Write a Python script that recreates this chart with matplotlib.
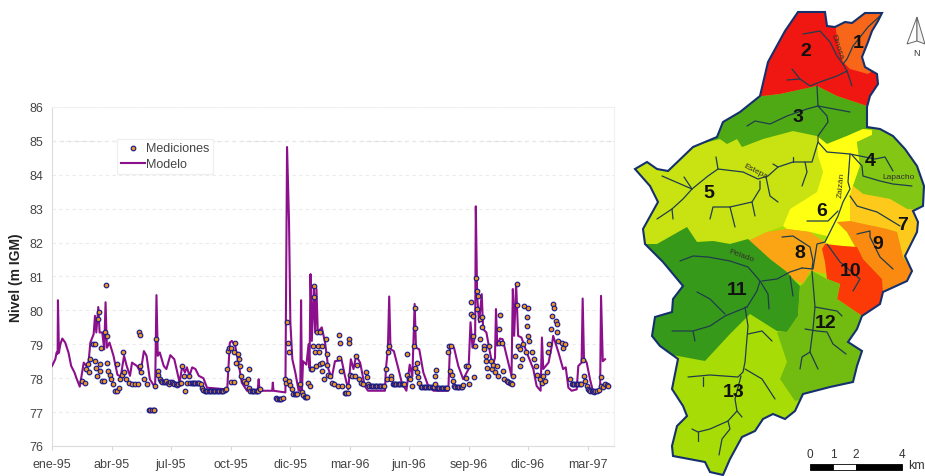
import matplotlib
matplotlib.use("Agg")
import matplotlib.pyplot as plt
from matplotlib.patches import Polygon, Rectangle

plt.rcParams['font.family'] = ['Liberation Sans', 'DejaVu Sans']

# ---- serie temporal (dias desde ene-95, nivel en m IGM)
dias_modelo = [0, 5, 7, 8.5, 9, 10.5, 12.6, 15.6, 20, 25, 29, 34, 37, 42, 48, 52, 55, 58, 63, 65, 67, 70, 72, 76, 79, 81, 83, 87,
               93, 99, 104, 109, 113, 118, 121, 128.6, 134, 139, 143, 148, 156, 158, 160, 163, 169, 173, 179, 185, 193, 197,
               201, 204, 208, 212, 217, 222, 229, 234.5, 265, 269, 272, 277, 282, 287, 295, 311, 312.6, 314, 333, 334, 335,
               353, 355.5, 358.5, 360.5, 363.5, 368, 373, 375.5, 376.7, 378, 379.7, 384.8, 388, 389.5, 391, 393, 396, 398, 400,
               402, 408, 413, 418, 423, 428, 438, 443, 448, 452, 456, 460, 466, 473, 478, 503.6, 505, 508, 510, 512, 517, 524,
               529, 536, 541, 545, 548.5, 550.5, 555.5, 561.6, 569, 577, 599.4, 602, 608, 614.5, 622, 630, 633, 636, 640, 641,
               643, 646, 650, 652, 657, 662.4, 666.5, 670, 671.5, 673.5, 677.6, 681.6, 687.6, 695, 697, 699, 702, 705, 710, 718,
               728, 733, 739, 741, 743, 751, 756, 758, 766, 773, 777, 781, 786, 793.6, 796, 801, 802.6, 804.6, 808.7, 813.7, 818,
               829, 830.4, 833, 836.4]
nivel_modelo = [78.36, 78.56, 78.76, 78.72, 80.3, 78.75, 79.0, 79.17, 79.05, 78.75, 78.36, 78.17, 78.0, 77.75, 78.46, 78.36, 78.41, 79.05, 79.3, 79.84, 79.35, 80.1, 79.35, 79.35, 78.85, 80.24, 78.9, 79.05,
                78.66, 78.1, 78.05, 78.66, 78.36, 78.07, 78.46, 78.36, 78.17, 78.8, 78.66, 77.97, 77.72, 80.45, 78.66, 78.76, 78.36, 78.27, 78.68, 78.56, 77.87, 78.36,
                78.17, 78.32, 78.07, 78.32, 78.27, 78.07, 78.0, 77.72, 77.67, 79.05, 79.1, 78.96, 78.46, 77.87, 77.63, 77.63, 77.97, 77.63, 77.63, 77.87, 77.63,
                77.58, 84.82, 82.6, 79.65, 78.56, 78.17, 77.63, 77.63, 80.3, 77.63, 78.5, 78.4, 79.0, 78.3, 81.07, 79.1, 80.7, 79.35, 80.63,
                79.35, 79.5, 79.05, 78.27, 78.0, 78.5, 78.54, 78.07, 77.67, 78.56, 78.27, 78.66, 78.46, 77.77, 77.63, 77.63, 78.27, 78.86, 80.41, 78.86, 78.8, 78.27,
                77.87, 77.63, 78.4, 78.05, 80.19, 78.9, 78.85, 78.17, 77.77, 77.63, 77.63, 78.96, 78.9, 78.36, 77.97, 78.27, 79.65, 78.9, 79.25, 83.07,
                80.43, 79.65, 80.48, 79.45, 79.35, 78.76, 78.36, 78.6, 80.04, 78.96, 79.17, 79.15, 78.66, 78.07, 80.63, 79.25, 80.78, 79.25, 79.2, 78.76,
                78.27, 77.77, 77.63, 79.2, 78.27, 78.46, 78.96, 79.25, 78.76, 78.27, 78.32, 77.72, 77.63, 77.67, 78.36, 78.46, 80.35, 78.56, 78.46, 77.97, 77.63,
                77.63, 80.43, 78.5, 78.56]

dias_med = [45, 50, 52, 54, 55.5, 58, 62, 64.5, 64.5, 66.5, 68, 69.6, 70.6, 72, 73, 74.6, 75.6, 78, 79.7, 81, 82.7, 83, 85, 87, 89, 92, 95, 98, 99, 101,
            103.4, 106, 108, 109.4, 112.5, 116, 121, 126, 130, 131, 132.6, 133.6, 135, 139, 143.7,
            146, 148.8, 151, 153.8, 155, 156, 158, 160, 161, 163,
            165, 167, 169, 171, 173, 175, 177, 179, 181, 183, 185, 187, 189, 191, 193, 195, 197, 199, 201.7, 204, 207,
            209, 211, 213, 215, 217, 219, 221, 223, 225, 227, 229,
            231, 233, 235, 237, 239, 241, 243, 245, 247, 249, 251, 253, 255, 257, 259, 261, 263,
            264.7, 266, 267, 270, 271, 275, 276, 277, 278, 282, 283, 285, 286, 290, 293, 296, 297.5, 298,
            300, 302, 304, 306, 308, 310, 312, 315,
            339, 341, 343, 345, 347, 349, 353, 354.5, 355.6, 356.5, 358, 358.6, 360.5, 363,
            365, 367, 369, 371, 375.7, 378, 380, 382.5, 384, 386, 387.6, 390, 391, 392.6, 394, 396, 396, 397.7, 398.7,
            401, 402, 404, 405, 406, 408, 409, 409, 411, 414, 416, 416, 418, 420.4, 424, 427, 433, 434.5, 434.5, 435.5, 436.5, 439,
            443, 445, 447, 448, 449.6, 449.6, 450.6, 453, 458, 459.7, 461.7, 465, 468, 471, 475, 476, 478,
            480, 482, 484, 486, 488, 490, 492, 494, 496, 498, 500, 502, 505, 507, 508.6, 510, 512, 513,
            515, 517, 519, 521, 523, 525, 527, 529, 531, 533, 537, 537, 540.4, 542, 544.4,
            547.5, 549, 549, 549, 551.5, 552.5, 554, 555.5,
            558, 560, 562, 564, 566, 568, 570, 572, 574, 576, 578, 579, 579, 580.7,
            582, 584, 586, 588, 590, 592, 594, 596, 598, 599.4, 601, 603, 602, 604.5, 606, 608,
            610, 612, 614, 616, 618, 620, 622, 625.6, 625.6, 629.6, 630.7,
            633, 633.7, 636, 637, 638, 640, 641, 643, 643, 645, 647, 648, 650, 651, 653, 653, 656, 657, 658.4, 660, 661.4, 663.4, 665, 667.5,
            670, 672.5, 675, 676, 676.6, 677.6, 680, 681.6, 683.6, 687.6, 690, 692.7, 694, 696, 697.7, 700, 703, 704, 705.3, 708, 708, 710.4, 712,
            714, 717, 718, 719, 720.4, 720.4, 722, 725.5, 729, 732, 734, 738, 740.6, 743, 745.6, 748, 750.7, 752, 754, 756, 758, 760, 762, 764, 764,
            766, 771, 773, 776, 783.5, 786, 788, 790, 792, 794, 796, 798, 800, 803.6, 804.6, 806, 808.7,
            810, 812, 814, 816, 818, 820, 822, 825, 827, 831, 831, 834, 836.4, 839, 841.5]
nivel_med = [77.92, 77.85, 78.27, 78.41, 78.17, 78.56, 79, 79, 78.5, 78.3, 78.07, 79.75, 79.96, 78.41, 78.2, 78.9, 77.92, 77.92, 79.35, 80.75, 79.25, 78.46, 78.2, 78.1, 77.97, 77.82, 77.63, 77.63, 78.41, 77.72,
             77.97, 78.1, 78.76, 78.17, 77.97, 77.87, 77.82, 77.82, 77.82, 79.35, 79.27, 78.36, 78.17, 77.97, 77.82,
             77.05, 77.05, 77.05, 77.05, 77.05, 77.77, 79.15, 78.2, 78.1, 77.97,
             77.92, 77.9, 77.88, 77.9, 77.92, 77.85, 77.82, 77.88, 77.9, 77.85, 77.82, 77.82, 77.8, 77.82, 77.85, 77.85, 78.36, 78.07, 77.62, 77.87, 78.07,
             77.85, 77.85, 77.85, 77.85, 77.85, 77.85, 77.85, 77.85, 77.82, 77.7, 77.65,
             77.63, 77.63, 77.63, 77.63, 77.63, 77.63, 77.63, 77.63, 77.63, 77.63, 77.63, 77.63, 77.63, 77.63, 77.63, 77.65, 77.67,
             78.27, 78.8, 78.9, 78.9, 77.9, 77.88, 78.76, 79.05, 78.46, 78.7, 78.56, 78.36, 78.07, 77.92, 77.85, 77.97, 78.27, 77.72,
             77.63, 77.63, 77.63, 77.63, 77.63, 77.63, 77.63, 77.67,
             77.42, 77.4, 77.38, 77.38, 77.4, 77.42, 77.97, 77.87, 79.65, 79.05, 78.76, 77.92, 77.8, 77.67,
             77.53, 77.53, 77.53, 77.53, 77.82, 77.58, 77.5, 77.46, 77.46, 77.46, 77.87, 77.77, 78.27, 78.27, 78.96, 80.73, 80.41, 78.76, 78.35,
             79.35, 78.96, 78.76, 79.35, 78.41, 78.96, 78.46, 78.2, 77.97, 79.15, 78.7, 78.4, 78.1, 78.07, 77.87, 77.82, 77.77, 79.27, 78.6, 79.05, 78.2, 77.77,
             77.56, 77.56, 77.56, 77.77, 79.17, 79.05, 78.1, 78.07, 78.07, 78.66, 78.4, 77.97, 77.87, 77.82, 78.17, 78.05, 77.82,
             77.77, 77.77, 77.77, 77.77, 77.77, 77.77, 77.77, 77.77, 77.77, 77.77, 77.77, 77.77, 78.27, 77.97, 78.76, 78.94, 78.07, 77.97,
             77.82, 77.82, 77.82, 77.82, 77.82, 77.82, 77.82, 77.82, 77.82, 77.82, 78.7, 78.1, 78.0, 77.97, 77.77,
             78.96, 80.06, 79.47, 78.3, 78.44, 78.17, 78.05, 77.87,
             77.75, 77.75, 77.75, 77.75, 77.75, 77.75, 77.75, 77.75, 77.75, 77.75, 77.75, 78.07, 77.82, 78.25,
             77.72, 77.72, 77.72, 77.72, 77.72, 77.72, 77.72, 77.72, 77.72, 78.76, 78.96, 78.96, 78.2, 78.1, 77.92, 77.77,
             77.75, 77.75, 77.75, 77.75, 77.75, 77.75, 77.8, 78.36, 78.0, 78.36, 77.82,
             79.9, 80.25, 79.25, 79.84, 78.05, 78.96, 80.95, 80.58, 80.04, 80.43, 79.15, 79.75, 79.8, 79.5, 78.96, 78.86, 78.66, 78.5, 78.3, 78.07, 78.96, 78.5, 78.27, 78.4,
             78.17, 78.36, 78.07, 79.05, 79.45, 79.86, 79.05, 78.2, 77.97, 77.92, 77.9, 77.87, 77.85, 77.82, 78.07, 78.66, 80.78, 80.16, 78.96, 78.86, 78.36, 78.56, 79,
             80.14, 78.76, 79.55, 79.82, 80.06, 79.25, 79.1, 78.76, 78.56, 78.36, 78.1, 77.97, 77.87, 78.07, 77.92, 78.17, 78.76, 79, 79.45, 79.84, 80.19, 80.06, 79.7, 79.6, 79.35,
             79.1, 79.05, 78.9, 79, 77.97, 77.82, 77.82, 77.82, 77.82, 77.82, 77.82, 77.82, 77.82, 78.54, 78.07, 77.92, 77.77,
             77.68, 77.65, 77.62, 77.62, 77.62, 77.6, 77.62, 77.62, 77.65, 78.05, 77.77, 77.75, 77.82, 77.8, 77.77]

ticks_dias = [0, 90, 180, 270, 360, 450, 540, 630, 720, 810]
ticks_fechas = ['ene-95', 'abr-95', 'jul-95', 'oct-95', 'dic-95', 'mar-96', 'jun-96', 'sep-96', 'dic-96', 'mar-97']

# ---- mapa de la cuenca, en pixeles de la figura
borde = [(798, 13), (825, 13), (827, 27), (835, 28), (845, 23), (852, 24), (865, 14), (882, 14), (878, 22), (872, 32), (868, 43), (862, 58),
         (865, 68), (877, 75), (878, 85), (870, 97), (867, 108), (867, 128), (880, 130), (893, 137), (905, 150), (917, 167), (924, 187),
         (923, 207), (913, 212), (918, 223), (917, 233), (905, 257), (912, 272), (907, 282), (883, 293), (880, 305), (862, 317), (857, 330),
         (848, 343), (862, 352), (857, 367), (853, 383), (830, 388), (803, 395), (795, 412), (785, 420), (773, 415), (763, 420), (755, 432),
         (742, 438), (730, 460), (723, 476), (710, 473), (705, 463), (673, 457), (672, 447), (677, 427), (687, 417), (683, 407), (672, 390),
         (678, 360), (660, 347), (652, 337), (655, 318), (672, 313), (673, 300), (683, 287), (663, 263), (645, 245), (643, 230), (658, 203),
         (650, 187), (635, 170), (647, 163), (657, 170), (668, 172), (693, 148), (717, 138), (723, 123), (740, 113), (760, 97), (768, 63), (785, 32)]

subcuencas = {
    '5': ('#c8e212', [(630, 130), (720, 140), (727, 145), (737, 140), (742, 148), (763, 140), (793, 132), (817, 137), (817, 143), (818, 157), (823, 173),
                      (817, 193), (790, 210), (783, 227), (767, 233), (748, 242), (730, 245), (713, 242), (697, 243), (687, 230), (657, 245), (630, 250)]),
    '3': ('#4fa914', [(700, 90), (763, 97), (780, 95), (817, 87), (837, 97), (867, 107), (880, 130), (863, 130), (847, 137), (827, 145), (817, 137), (793, 132),
                      (763, 140), (742, 148), (737, 140), (727, 145), (720, 140), (700, 145)]),
    '2': ('#f01612', [(700, 97), (763, 97), (780, 95), (817, 87), (837, 97), (867, 107), (900, 100), (900, 0), (760, 0)]),
    '1': ('#f8661a', [(835, 25), (838, 45), (843, 63), (850, 70), (868, 75), (890, 60), (890, 5), (840, 5)]),
    '6': ('#ffff12', [(817, 137), (827, 145), (847, 137), (863, 130), (875, 132), (872, 136), (857, 143), (860, 167), (853, 187), (850, 197), (850, 223), (837, 223),
                      (847, 233), (855, 248), (825, 247), (827, 237), (810, 233), (787, 230), (783, 227), (790, 210), (817, 193), (823, 173), (818, 157), (817, 143)]),
    '4': ('#84c614', [(872, 128), (872, 136), (857, 143), (860, 167), (853, 187), (863, 195), (890, 200), (907, 210), (930, 212), (930, 130)]),
    '7': ('#fdc91a', [(853, 187), (863, 195), (890, 200), (907, 210), (930, 212), (930, 262), (903, 258), (897, 233), (887, 230), (850, 223), (850, 197)]),
    '9': ('#fb8a10', [(837, 223), (850, 222), (887, 230), (897, 233), (903, 258), (912, 272), (910, 290), (883, 293), (882, 280), (863, 260), (855, 247), (847, 233)]),
    '8': ('#fba414', [(748, 242), (767, 233), (787, 230), (810, 233), (827, 245), (822, 250), (825, 263), (827, 275), (817, 273), (810, 272), (803, 285), (793, 280), (787, 273), (770, 260)]),
    '10': ('#fb3a08', [(825, 245), (843, 247), (857, 248), (863, 260), (882, 280), (883, 293), (880, 305), (862, 317), (837, 300), (840, 285), (827, 280), (825, 263), (822, 250)]),
    '11': ('#37991a', [(640, 245), (657, 245), (687, 228), (697, 243), (713, 242), (730, 245), (748, 240), (770, 260), (787, 273), (793, 280), (800, 287), (798, 317), (787, 333), (777, 332),
                       (750, 315), (730, 335), (705, 362), (678, 357), (640, 350)]),
    '12': ('#72bb10', [(800, 287), (803, 285), (812, 272), (827, 280), (840, 285), (837, 300), (862, 317), (870, 345), (870, 400), (803, 400), (795, 402), (780, 380), (787, 363), (777, 333), (787, 333), (798, 317)]),
}
color_fondo = '#a8dc06'  # subcuenca 13

rios = [
    [(803, 35), (820, 32), (830, 43), (837, 57), (843, 65), (847, 72), (837, 77), (820, 83), (810, 87), (800, 80), (792, 70)],
    [(880, 17), (868, 28), (853, 47), (847, 60), (843, 65)],
    [(847, 72), (852, 87)],
    [(787, 81), (800, 80)],
    [(817, 87), (818, 107), (827, 117), (828, 123), (818, 137), (818, 143), (827, 153), (850, 155), (848, 183), (850, 190), (843, 203), (838, 217), (830, 233), (825, 243), (817, 245), (813, 270), (802, 269)],
    [(818, 107), (850, 113)],
    [(747, 127), (755, 122), (770, 125), (787, 117), (807, 110), (818, 107)],
    [(818, 143), (812, 163), (805, 163), (793, 163), (778, 168), (768, 177), (758, 180), (743, 173), (718, 170), (708, 177), (692, 190), (683, 200), (672, 210), (657, 220)],
    [(718, 170), (716, 158)],
    [(692, 190), (662, 177)],
    [(692, 190), (684, 178)],
    [(672, 210), (673, 220)],
    [(805, 163), (807, 173), (802, 187)],
    [(793, 163), (793, 158)],
    [(778, 168), (773, 165)],
    [(760, 182), (760, 190), (752, 203), (730, 208), (713, 208), (710, 220)],
    [(730, 208), (735, 228)],
    [(752, 203), (755, 217)],
    [(766, 178), (770, 197), (778, 203)],
    [(850, 155), (865, 158), (875, 160), (885, 158), (893, 172)],
    [(852, 156), (862, 167), (863, 177), (880, 182), (893, 185), (912, 187)],
    [(850, 197), (857, 207), (877, 213), (900, 227)],
    [(807, 222), (828, 222), (838, 212)],
    [(857, 235), (870, 232), (870, 238), (880, 258), (893, 270)],
    [(827, 245), (840, 263), (860, 280), (853, 292)],
    [(782, 238), (793, 237), (810, 248), (813, 262), (812, 270)],
    [(802, 269), (790, 273), (777, 280), (762, 282)],
    [(680, 262), (693, 257), (708, 258), (730, 262), (748, 268), (760, 282), (768, 295), (769, 310)],
    [(790, 277), (793, 297)],
    [(760, 282), (757, 292), (747, 308)],
    [(747, 308), (725, 317), (710, 327), (693, 332), (672, 332)],
    [(693, 332), (695, 342)],
    [(697, 293), (710, 300), (725, 315)],
    [(745, 308), (748, 327), (745, 363), (743, 373), (738, 378), (710, 376), (688, 378)],
    [(703, 378), (703, 387)],
    [(748, 335), (762, 332), (772, 342)],
    [(745, 370), (762, 380), (775, 400)],
    [(741, 377), (735, 400), (737, 412), (728, 422), (710, 430), (698, 433), (692, 430)],
    [(698, 433), (698, 442)],
    [(728, 422), (730, 430), (722, 440), (719, 456)],
    [(737, 412), (742, 418)],
    [(812, 272), (815, 308), (813, 330), (810, 353), (802, 358), (800, 370)],
    [(810, 353), (818, 370)],
    [(815, 308), (837, 312), (842, 317)],
    [(805, 330), (817, 332), (827, 333), (833, 345), (846, 355)],
]

etiquetas = ['1', '2', '3', '4', '5', '6', '7', '8', '9', '10', '11', '12', '13']
etiq_x = [858, 806, 798, 870, 709, 822, 903, 800, 878, 851, 737, 826, 734]
etiq_y = [43, 52, 117, 162, 194, 212, 226, 253, 245, 272, 291, 324, 393]

nombres_rios = ['Dinosa', 'Estepa', 'Zaizán', 'Lapacho', 'Pelado']
nombres_x = [837, 756, 841, 899, 741]
nombres_y = [47, 172, 185, 178, 256]
nombres_rot = [-72, -27, 85, 0, -20]

W, H = 925, 477
fig = plt.figure(figsize=(W / 100, H / 100), dpi=100)

# ---- grafico
izq, der, arr, aba = 52, 614, 108, 447
ax = fig.add_axes([izq / W, 1 - aba / H, (der - izq) / W, (aba - arr) / H])
ax.set_xlim(0, 850)
ax.set_ylim(76, 86)
ax.set_yticks(range(76, 87))
ax.set_xticks(ticks_dias)
ax.set_xticklabels(ticks_fechas)
ax.tick_params(axis='both', labelsize=9, colors='#444444', length=3, width=0.8, pad=3)
ax.tick_params(axis='x', color='#d8d8d8', pad=6)
ax.tick_params(axis='y', color='#d8d8d8', length=0, pad=6)
ax.grid(axis='y', color='#ebebeb', linestyle=(0, (3, 3)), linewidth=0.8)
ax.set_axisbelow(True)
ax.axhline(85, color='#dcdcdc', linestyle=(0, (3, 3)), linewidth=0.9, zorder=0)
for s in ax.spines:
    ax.spines[s].set_color('#f0f0f0')
ax.spines['left'].set_color('#dcdcdc')
ax.spines['bottom'].set_color('#dcdcdc')
ax.set_ylabel('Nivel (m IGM)', fontsize=10, fontweight='bold', color='#222222', labelpad=5)

linea, = ax.plot(dias_modelo, nivel_modelo, color='#8c0f8c', linewidth=1.5, label='Modelo', zorder=3)
puntos = ax.scatter(dias_med, nivel_med, s=11, facecolor='#ee9420', edgecolor='#1c1c8a', linewidth=0.85, label='Mediciones', zorder=4)
ley = ax.legend(handles=[puntos, linea], loc='upper left', bbox_to_anchor=(0.116, 0.907), fontsize=9, frameon=True, fancybox=False,
                edgecolor='#f0f0f0', facecolor='white', framealpha=1, borderpad=0.3, labelspacing=0.3, handlelength=1.9, handletextpad=0.1, borderaxespad=0)
for t in ley.get_texts():
    t.set_color('#444444')

# ---- mapa
mapa = fig.add_axes([0, 0, 1, 1])
mapa.set_xlim(0, W)
mapa.set_ylim(H, 0)
mapa.axis('off')
mapa.patch.set_alpha(0)

contorno = Polygon(borde, closed=True, facecolor=color_fondo, edgecolor='none', zorder=1)
mapa.add_patch(contorno)
for k in subcuencas:
    color, pts = subcuencas[k]
    p = Polygon(pts, closed=True, facecolor=color, edgecolor='none', zorder=2)
    mapa.add_patch(p)
    p.set_clip_path(contorno)
for r in rios:
    xs = [q[0] for q in r]
    ys = [q[1] for q in r]
    mapa.plot(xs, ys, color='#1f3d4d', linewidth=0.9, zorder=3, solid_capstyle='round')
mapa.add_patch(Polygon(borde, closed=True, facecolor='none', edgecolor='#14306e', linewidth=1.5, zorder=4))

for e, x, y in zip(etiquetas, etiq_x, etiq_y):
    mapa.text(x, y, e, fontsize=14, fontweight='bold', color='#111111', ha='center', va='center', zorder=5)
for n, x, y, rot in zip(nombres_rios, nombres_x, nombres_y, nombres_rot):
    mapa.text(x, y, n, fontsize=6, color='#30302a', ha='center', va='center', rotation=rot, zorder=5)

# escala
mapa.add_patch(Rectangle((810, 465), 23, 6, facecolor='black', edgecolor='black', linewidth=0.6))
mapa.add_patch(Rectangle((833, 465), 23, 6, facecolor='white', edgecolor='black', linewidth=0.6))
mapa.add_patch(Rectangle((856, 465), 46, 6, facecolor='black', edgecolor='black', linewidth=0.6))
for v, x in zip(['0', '1', '2', '4'], [810, 833, 856, 902]):
    mapa.text(x, 455, v, fontsize=8.5, color='#333333', ha='center', va='center')
mapa.text(916, 466, 'km', fontsize=9, color='#333333', ha='center', va='center')

# norte
mapa.add_patch(Polygon([(917, 18), (907, 45), (917, 42)], closed=True, facecolor='white', edgecolor='#666666', linewidth=0.7))
mapa.add_patch(Polygon([(917, 18), (925, 45), (917, 42)], closed=True, facecolor='#f2f2f2', edgecolor='#666666', linewidth=0.7))
mapa.text(916, 53, 'N', fontsize=6.5, color='#333333', ha='center', va='center')

fig.savefig('out.png', dpi=100)
